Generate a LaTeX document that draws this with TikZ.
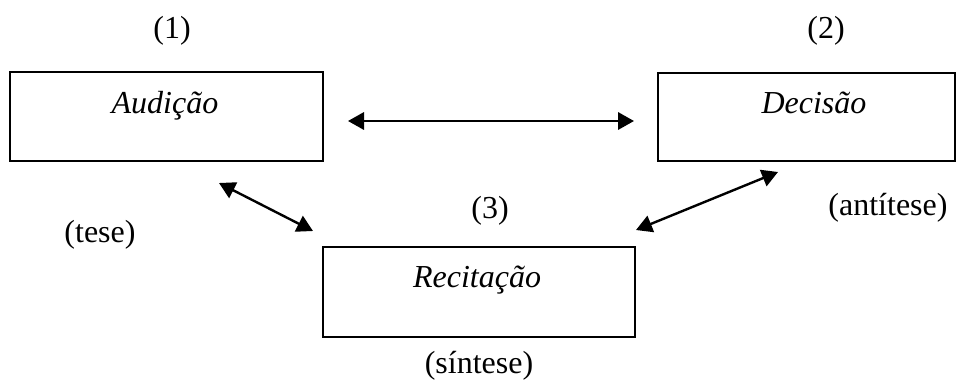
\documentclass[tikz,border=0pt]{standalone}
\usepackage{fontspec}
\setmainfont{Liberation Serif}
\usetikzlibrary{arrows.meta}

\begin{document}
\begin{tikzpicture}[
  x=0.75pt, y=-0.75pt,
  box/.style={draw, line width=1.8pt, inner sep=0pt, outer sep=0pt},
  lbl/.style={font=\fontsize{24}{28}\selectfont, anchor=base, inner sep=0pt},
  link/.style={line width=1.8pt,
    {Triangle[length=12pt,width=13pt]}-{Triangle[length=12pt,width=13pt]}}
]
\useasboundingbox (0,0) rectangle (958,383);

% the three stages
\node[box, minimum width=234.75pt, minimum height=66.75pt] (aud) at (166.5,116.5) {};
\node[box, minimum width=222.75pt, minimum height=66pt]    (dec) at (806.5,117) {};
\node[box, minimum width=234pt,    minimum height=67.5pt]  (rec) at (479,292) {};

\node[lbl] (audt) at (165,113) {\itshape Audição};
\node[lbl] (dect) at (814,113) {\itshape Decisão};
\node[lbl] (rect) at (477,287) {\itshape Recitação};

% numbering and dialectic roles
\node[lbl] (n1) at (172,38) {(1)};
\node[lbl] (n2) at (826,38) {(2)};
\node[lbl] (n3) at (490,218) {(3)};
\node[lbl] (tese) at (100,242) {(tese)};
\node[lbl] (anti) at (888,215) {(antítese)};
\node[lbl] (sint) at (479,373) {(síntese)};

% connector end points
\coordinate (h1) at (348,121);
\coordinate (h2) at (634,121);
\coordinate (l1) at (219,183);
\coordinate (l2) at (313,231);
\coordinate (r1) at (778,172);
\coordinate (r2) at (636,230);

\draw[link] (h1) -- (h2);
\draw[link] (l1) -- (l2);
\draw[link] (r1) -- (r2);
\end{tikzpicture}
\end{document}
